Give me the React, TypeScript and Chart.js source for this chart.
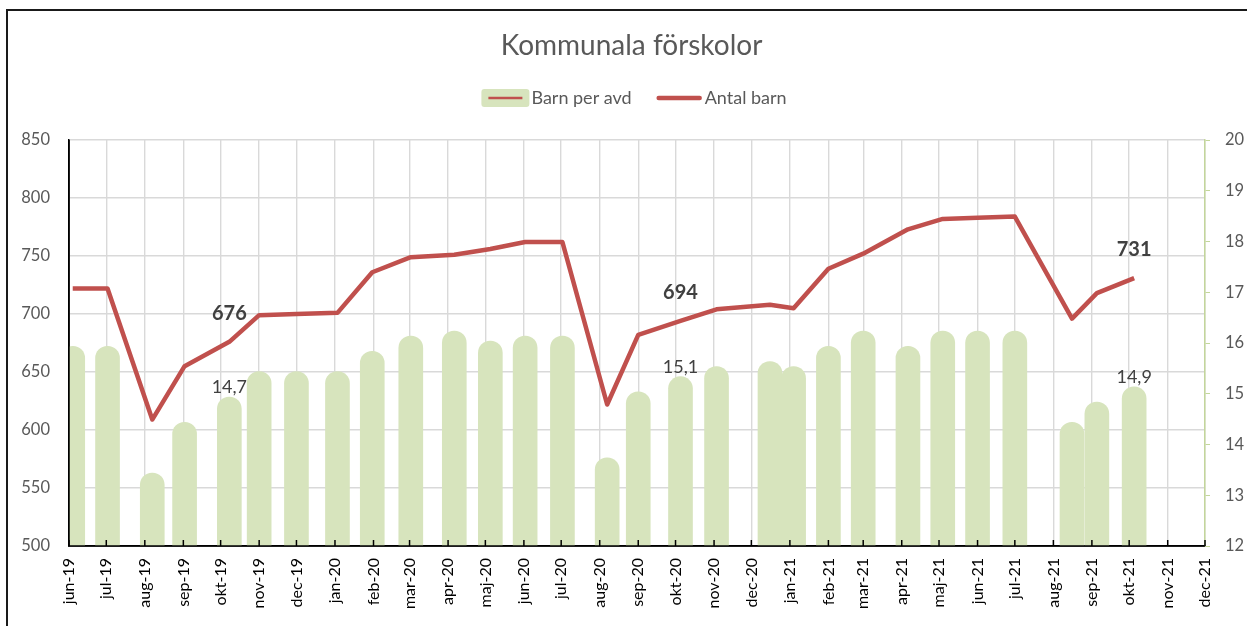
import React, { useEffect, useRef } from "react";
import { Chart, registerables } from "chart.js";

Chart.register(...registerables);

const FONT = "Lato, 'Open Sans', sans-serif";
const GREEN = "#d7e4bd";
const RED = "#c0504d";
const GRID = "#d9d9d9";
const AXIS_GREEN = "#c3d69b";
const TEXT_GREY = "#595959";
const LABEL_DARK = "#404040";

const chartTitle = "Kommunala förskolor";
const barSeriesName = "Barn per avd";
const lineSeriesName = "Antal barn";

// x axis: month ticks (date axis, one tick per month)
const monthTickDates = [
  "2019-06-01", "2019-07-01", "2019-08-01", "2019-09-01", "2019-10-01", "2019-11-01", "2019-12-01",
  "2020-01-01", "2020-02-01", "2020-03-01", "2020-04-01", "2020-05-01", "2020-06-01", "2020-07-01",
  "2020-08-01", "2020-09-01", "2020-10-01", "2020-11-01", "2020-12-01",
  "2021-01-01", "2021-02-01", "2021-03-01", "2021-04-01", "2021-05-01", "2021-06-01", "2021-07-01",
  "2021-08-01", "2021-09-01", "2021-10-01", "2021-11-01", "2021-12-01",
];
const monthTickLabels = [
  "jun-19", "jul-19", "aug-19", "sep-19", "okt-19", "nov-19", "dec-19",
  "jan-20", "feb-20", "mar-20", "apr-20", "maj-20", "jun-20", "jul-20",
  "aug-20", "sep-20", "okt-20", "nov-20", "dec-20",
  "jan-21", "feb-21", "mar-21", "apr-21", "maj-21", "jun-21", "jul-21",
  "aug-21", "sep-21", "okt-21", "nov-21", "dec-21",
];

// observations (dates of measurement)
const observationDates = [
  "2019-06-04", "2019-07-02", "2019-08-07", "2019-09-02", "2019-10-08", "2019-11-01", "2019-12-01",
  "2020-01-03", "2020-01-31", "2020-03-02", "2020-04-06", "2020-05-05", "2020-06-02", "2020-07-02",
  "2020-08-07", "2020-09-01", "2020-10-05", "2020-11-03", "2020-12-16", "2021-01-04",
  "2021-02-01", "2021-03-01", "2021-04-06", "2021-05-04", "2021-06-01", "2021-07-01",
  "2021-08-16", "2021-09-05", "2021-10-05",
];
const antalBarn = [
  722, 722, 609, 655, 676, 699, 700,
  701, 736, 749, 751, 756, 762, 762,
  622, 682, 694, 704, 708, 705,
  739, 752, 773, 782, 783, 784,
  696, 718, 731,
];
const barnPerAvd = [
  15.7, 15.7, 13.2, 14.2, 14.7, 15.2, 15.2,
  15.2, 15.6, 15.9, 16.0, 15.8, 15.9, 15.9,
  13.5, 14.8, 15.1, 15.3, 15.4, 15.3,
  15.7, 16.0, 15.7, 16.0, 16.0, 16.0,
  14.2, 14.6, 14.9,
];
const labelledDates = ["2019-10-08", "2020-10-05", "2021-10-05"];

const AXIS_START = "2019-06-01";
const AXIS_END = "2021-12-01";

function dayNumber(iso: string): number {
  const [y, m, d] = iso.split("-").map(Number);
  const [y0, m0, d0] = AXIS_START.split("-").map(Number);
  return (Date.UTC(y, m - 1, d) - Date.UTC(y0, m0 - 1, d0)) / 86400000;
}

// Excel's rounded bar caps overshoot the value by half a bar width (12px ≈ 0.236 units)
const CAP_UNITS = 0.236;

const axisLinesPlugin = {
  id: "axisLines",
  afterDatasetsDraw(chart: any) {
    const { ctx, chartArea: a } = chart;
    const xs = chart.scales.x;
    ctx.save();
    ctx.strokeStyle = "#000";
    ctx.lineWidth = 1.5;
    ctx.beginPath();
    ctx.moveTo(a.left, a.top);
    ctx.lineTo(a.left, a.bottom);
    ctx.lineTo(a.right, a.bottom);
    ctx.stroke();
    xs.ticks.forEach((t: any) => {
      const px = xs.getPixelForValue(t.value);
      ctx.beginPath();
      ctx.moveTo(px, a.bottom);
      ctx.lineTo(px, a.bottom - 6);
      ctx.stroke();
    });
    ctx.restore();
  },
};

const valueLabelPlugin = {
  id: "valueLabels",
  afterDatasetsDraw(chart: any) {
    const ctx = chart.ctx;
    const lineMeta = chart.getDatasetMeta(0);
    const barMeta = chart.getDatasetMeta(1);
    ctx.save();
    ctx.fillStyle = LABEL_DARK;
    ctx.textAlign = "center";
    ctx.textBaseline = "middle";
    labelledDates.forEach((d) => {
      const i = observationDates.indexOf(d);
      const lp = lineMeta.data[i];
      const bp = barMeta.data[i];
      ctx.font = `bold 20px ${FONT}`;
      ctx.fillText(String(antalBarn[i]), lp.x, lp.y - 28);
      ctx.font = `18px ${FONT}`;
      ctx.fillText(barnPerAvd[i].toFixed(1).replace(".", ","), bp.x, bp.y - 10);
    });
    ctx.restore();
  },
};

const legendPlugin = {
  id: "excelLegend",
  afterDraw(chart: any) {
    const ctx = chart.ctx;
    ctx.save();
    ctx.font = `18px ${FONT}`;
    ctx.textBaseline = "middle";
    ctx.textAlign = "left";
    const w1 = ctx.measureText(barSeriesName).width;
    const w2 = ctx.measureText(lineSeriesName).width;
    const total = 48 + 2 + w1 + 25 + 45 + 3 + w2;
    let x = 634 - total / 2;
    const cy = 98;
    ctx.fillStyle = GREEN;
    ctx.beginPath();
    (ctx as any).roundRect(x, cy - 9, 48, 18, 3);
    ctx.fill();
    ctx.strokeStyle = RED;
    ctx.lineWidth = 2.5;
    ctx.beginPath();
    ctx.moveTo(x + 7, cy);
    ctx.lineTo(x + 41, cy);
    ctx.stroke();
    x += 50;
    ctx.fillStyle = TEXT_GREY;
    ctx.fillText(barSeriesName, x, cy);
    x += w1 + 25;
    ctx.lineWidth = 4.5;
    ctx.lineCap = "round";
    ctx.beginPath();
    ctx.moveTo(x + 2, cy);
    ctx.lineTo(x + 43, cy);
    ctx.stroke();
    x += 48;
    ctx.fillText(lineSeriesName, x, cy);
    ctx.restore();
  },
};

export default function App() {
  const ref = useRef<HTMLCanvasElement>(null);

  useEffect(() => {
    const canvas = ref.current;
    if (!canvas) return;
    const barPoints = observationDates.map((d, i) => ({ x: dayNumber(d), y: barnPerAvd[i] }));
    const linePoints = observationDates.map((d, i) => ({ x: dayNumber(d), y: antalBarn[i] }));

    const chart = new Chart(canvas, {
      type: "bar",
      data: {
        datasets: [
          {
            type: "line",
            label: lineSeriesName,
            data: linePoints,
            yAxisID: "y",
            borderColor: RED,
            backgroundColor: RED,
            borderWidth: 4.5,
            pointRadius: 0,
            pointHoverRadius: 0,
            tension: 0,
            borderJoinStyle: "round",
            order: 1,
          } as any,
          {
            type: "bar",
            label: barSeriesName,
            data: barPoints,
            yAxisID: "yBar",
            backgroundColor: GREEN,
            barThickness: 24,
            borderRadius: { topLeft: 12, topRight: 12, bottomLeft: 0, bottomRight: 0 },
            borderSkipped: "bottom",
            clip: 0,
            order: 2,
          } as any,
        ],
      },
      options: {
        responsive: false,
        animation: false,
        layout: { padding: { left: 16, right: 0, top: 0, bottom: 0 } },
        plugins: {
          legend: { display: false },
          title: {
            display: true,
            text: chartTitle,
            color: TEXT_GREY,
            font: { family: FONT, size: 28, weight: "normal" as any },
            padding: { top: 29, bottom: 77.4 },
          },
        },
        scales: {
          x: {
            type: "linear",
            min: dayNumber(AXIS_START),
            max: dayNumber(AXIS_END),
            offset: false,
            afterBuildTicks: (s: any) => {
              s.ticks = monthTickDates.map((d) => ({ value: dayNumber(d) }));
            },
            afterFit: (s: any) => {
              s.height = 80;
            },
            ticks: {
              autoSkip: false,
              maxRotation: 90,
              minRotation: 90,
              padding: 12,
              color: "#000",
              font: { family: FONT, size: 16 },
              callback: (_v: any, i: number) => monthTickLabels[i],
            },
            grid: { color: GRID, lineWidth: 1.4, offset: false, drawTicks: false },
            border: { color: "#000", width: 1.5 },
          } as any,
          y: {
            type: "linear",
            position: "left",
            min: 500,
            max: 850,
            afterFit: (s: any) => {
              s.width = 53;
            },
            ticks: { stepSize: 50, padding: 19, color: TEXT_GREY, font: { family: FONT, size: 16.5 } },
            grid: { color: GRID, lineWidth: 1.4, drawTicks: false },
            border: { color: "#000", width: 1.5 },
          } as any,
          y2: {
            type: "linear",
            position: "right",
            min: 12,
            max: 20,
            afterFit: (s: any) => {
              s.width = 42;
            },
            ticks: { stepSize: 1, padding: 15, color: TEXT_GREY, font: { family: FONT, size: 16.5 } },
            grid: { drawOnChartArea: false, color: AXIS_GREEN, tickLength: 5 },
            border: { color: AXIS_GREEN, width: 1.5 },
          } as any,
          yBar: {
            type: "linear",
            display: false,
            min: 12 - CAP_UNITS,
            max: 20 - CAP_UNITS,
          } as any,
        },
      },
      plugins: [axisLinesPlugin, valueLabelPlugin, legendPlugin],
    });
    return () => chart.destroy();
  }, []);

  return (
    <div style={{ position: "fixed", left: 0, top: 0, width: 1247, height: 626, overflow: "hidden", background: "#fff" }}>
      <canvas ref={ref} width={1247} height={626} style={{ position: "absolute", left: 0, top: 0, width: 1247, height: 626 }} />
      <div
        style={{
          position: "absolute",
          left: 6,
          top: 9,
          width: 1400,
          height: 800,
          borderLeft: "2px solid #1a1a1a",
          borderTop: "2px solid #1a1a1a",
          pointerEvents: "none",
        }}
      />
    </div>
  );
}
